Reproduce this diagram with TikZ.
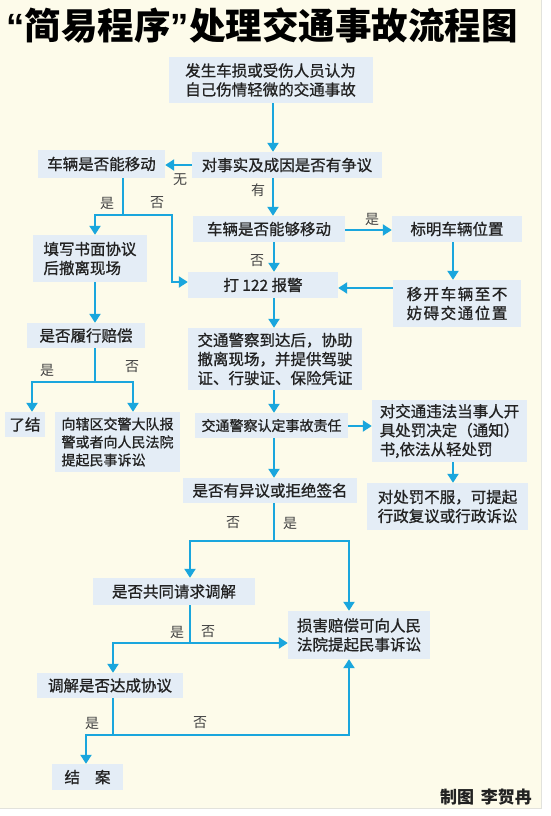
\documentclass[tikz,border=0pt]{standalone}
\usepackage{fontspec}
\setmainfont{Noto Sans CJK SC}
\newfontfamily\quotefnt{Liberation Sans}
\usetikzlibrary{arrows.meta}
\definecolor{cream}{HTML}{FDFBEA}
\definecolor{boxc}{HTML}{E4EDF6}
\definecolor{arrc}{HTML}{1AA6DD}
\definecolor{txtc}{HTML}{222222}
\definecolor{labc}{HTML}{444444}
\definecolor{edgec}{HTML}{E2E2DC}
\newcommand\boxfnt{\fontsize{15.5}{19}\selectfont\addfontfeature{FakeBold=0.9}}
\newcommand\smallboxfnt{\fontsize{14}{18}\selectfont\addfontfeature{FakeBold=0.9}}
\newcommand\labfnt{\fontsize{14}{14}\selectfont}
\begin{document}
\begin{tikzpicture}[x=1pt,y=-1pt,
  box/.style={fill=boxc, inner sep=0pt, align=left, text=txtc, font=\boxfnt},
  ln/.style={line width=2.2pt, draw=arrc},
  arr/.style={ln, -{Triangle[length=9pt,width=11pt]}},
  lab/.style={text=labc, font=\labfnt, inner sep=0pt}]
\useasboundingbox (0,0) rectangle (550,816);
\fill[white] (0,0) rectangle (550,816);
\fill[cream] (0,0) rectangle (541,808);
\draw[edgec, line width=1pt] (541,0) -- (541,808) -- (0,808);

% title
\node[font=\bfseries\fontsize{36.5}{36.5}\selectfont, text=black, inner sep=0pt] (title) at (262,26) {{\quotefnt\bfseries “}简易程序{\quotefnt\bfseries ”}处理交通事故流程图};

% nodes
\node[box, minimum width=204pt, minimum height=46pt] (n1) at (270.5,80) {发生车损或受伤人员认为\\自己伤情轻微的交通事故};
\node[box, minimum width=190pt, minimum height=26pt] (n2) at (287,165) {对事实及成因是否有争议};
\node[box, minimum width=127pt, minimum height=28pt] (nL1) at (101.5,164) {车辆是否能移动};
\node[box, minimum width=152pt, minimum height=26pt] (n3) at (269,229) {车辆是否能够移动};
\node[box, minimum width=130pt, minimum height=26pt] (n4) at (457,229) {标明车辆位置};
\node[box, minimum width=128pt, minimum height=47pt] (n5) at (457,303.5) {\addfontfeature{LetterSpace=10}移开车辆至不\\\addfontfeature{LetterSpace=10}妨碍交通位置};
\node[box, minimum width=150pt, minimum height=26pt] (n6) at (263,285) {打 122 报警};
\node[box, minimum width=114pt, minimum height=47pt] (nL2) at (90,258.5) {填写书面协议\\后撤离现场};
\node[box, minimum width=118pt, minimum height=25pt] (nL3) at (86,335.5) {是否履行赔偿};
\node[box, minimum width=40pt, minimum height=25pt] (nL4) at (25,424.5) {了结};
\node[box, minimum width=125pt, minimum height=60pt, font=\smallboxfnt] (nL5) at (117.5,442) {向辖区交警大队报\\警或者向人民法院\\提起民事诉讼};
\node[box, minimum width=174pt, minimum height=62pt] (n7) at (275,359) {交通警察到达后，协助\\撤离现场，并提供驾驶\\证、行驶证、保险凭证};
\node[box, minimum width=153pt, minimum height=25pt, font=\smallboxfnt] (n8) at (271.5,425.5) {交通警察认定事故责任};
\node[box, minimum width=155pt, minimum height=62pt] (n9) at (449.5,431) {对交通违法当事人开\\具处罚决定（通知）\\书,依法从轻处罚};
\node[box, minimum width=161pt, minimum height=47pt] (n10) at (447.5,506.5) {对处罚不服，可提起\\行政复议或行政诉讼};
\node[box, minimum width=174pt, minimum height=25pt] (n11) at (270,490.5) {是否有异议或拒绝签名};
\node[box, minimum width=142pt, minimum height=48pt] (n12) at (359,635) {损害赔偿可向人民\\法院提起民事诉讼};
\node[box, minimum width=162pt, minimum height=27pt] (n13) at (174,591.5) {是否共同请求调解};
\node[box, minimum width=146pt, minimum height=25pt] (n14) at (110,685.5) {调解是否达成协议};
\node[box, minimum width=71pt, minimum height=26pt] (n15) at (87.5,777) {结\hspace{15pt}案};

% credit
\node[font=\bfseries\fontsize{17}{17}\selectfont, text=txtc] (credit) at (486,797) {制图\hspace{7pt}李贺冉};

% junctions
\coordinate (j1) at (123,215);
\coordinate (b1) at (172,282);
\coordinate (j2) at (95,382);
\coordinate (j3) at (274,541);
\coordinate (j4) at (190,643);
\coordinate (j5) at (113,735);

% connectors
\draw[arr] (n1.south -| 273,0) -- (n2.north -| 273,0);
\draw[arr] (n2.west |- 0,165) -- (nL1.east |- 0,165);
\draw[arr] (n2.south -| 273,0) -- (n3.north -| 273,0);
\draw[arr] (n3.east |- 0,230) -- (n4.west |- 0,230);
\draw[arr] (n4.south -| 453,0) -- (n5.north -| 453,0);
\draw[arr] (n5.west |- 0,288) -- (n6.east |- 0,288);
\draw[arr] (n3.south -| 274,0) -- (n6.north -| 274,0);

\draw[ln] (nL1.south -| j1) -- (j1);
\draw[arr] (j1) -| (nL2.north -| 95,0);
\draw[arr] (j1) -| (b1) -- (n6.west |- b1);

\draw[arr] (nL2.south -| 95,0) -- (nL3.north -| 95,0);
\draw[ln] (nL3.south -| j2) -- (j2);
\draw[arr] (j2) -| (nL4.north -| 32,0);
\draw[arr] (j2) -| (nL5.north -| 133,0);

\draw[arr] (n6.south -| 274,0) -- (n7.north -| 274,0);
\draw[arr] (n7.south -| 274,0) -- (n8.north -| 274,0);
\draw[arr] (n8.east |- 0,426) -- (n9.west |- 0,426);
\draw[arr] (n9.south -| 453,0) -- (n10.north -| 453,0);
\draw[arr] (n8.south -| 274,0) -- (n11.north -| 274,0);

\draw[ln] (n11.south -| j3) -- (j3);
\draw[arr] (j3) -| (n13.north -| 190,0);
\draw[arr] (j3) -| (n12.north -| 349,0);

\draw[ln] (n13.south -| j4) -- (j4);
\draw[arr] (j4) -- (n12.west |- j4);
\draw[arr] (j4) -| (n14.north -| 113,0);

\draw[ln] (n14.south -| j5) -- (j5);
\draw[arr] (j5) -| (n15.north -| 86,0);
\draw[arr] (j5) -| (n12.south -| 349,0);

% labels
\node[lab] (l1) at (180,180) {无};
\node[lab] (l2) at (258,190) {有};
\node[lab] (l3) at (372,219) {是};
\node[lab] (l4) at (257,261) {否};
\node[lab] (l5) at (107,203) {是};
\node[lab] (l6) at (157,203) {否};
\node[lab] (l7) at (47,370) {是};
\node[lab] (l8) at (132,367) {否};
\node[lab] (l9) at (233,523) {否};
\node[lab] (l10) at (290,523) {是};
\node[lab] (l11) at (177,632) {是};
\node[lab] (l12) at (208,632) {否};
\node[lab] (l13) at (92,723) {是};
\node[lab] (l14) at (200,723) {否};
\end{tikzpicture}
\end{document}
